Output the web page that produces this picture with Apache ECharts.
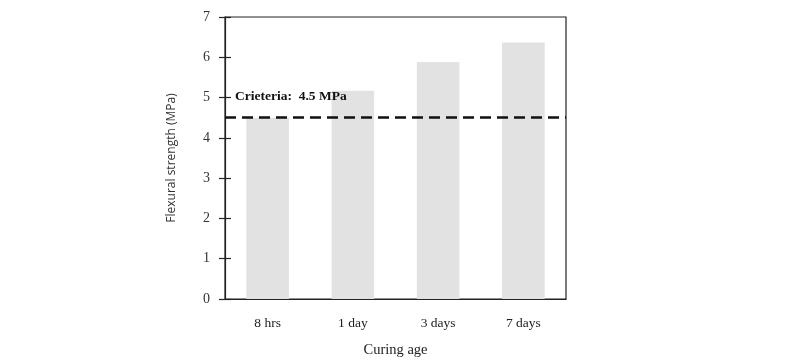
<!DOCTYPE html>
<html><head><meta charset="utf-8">
<script src="https://cdn.jsdelivr.net/npm/echarts@6/dist/echarts.min.js"></script>
<style>html,body{margin:0;padding:0;background:#fff}#c{width:800px;height:363px}</style>
</head><body><div id="c"></div>
<script>
const categories = ['8 hrs', '1 day', '3 days', '7 days'];
const strength = [4.5, 5.17, 5.88, 6.37];
const criteria = 4.5;
const criteriaLabel = 'Crieteria:  4.5 MPa';
const yTicks = { min: 0, max: 7, interval: 1 };

const chart = echarts.init(document.getElementById('c'));
const serif = 'Liberation Serif';
chart.setOption({
  animation: false,
  grid: { left: 225, right: 234, top: 17, bottom: 62, show: true, borderColor: '#222', borderWidth: 1.2, backgroundColor: 'transparent' },
  xAxis: {
    type: 'category', data: categories,
    axisLine: { lineStyle: { color: '#222', width: 1.2 } },
    axisTick: { show: false },
    axisLabel: { fontFamily: serif, fontSize: 13.5, color: '#222', margin: 17 },
    name: 'Curing age', nameLocation: 'middle', nameGap: 44,
    nameTextStyle: { fontFamily: serif, fontSize: 14.5, color: '#222' }
  },
  yAxis: [{
    type: 'value', min: yTicks.min, max: yTicks.max, interval: yTicks.interval,
    splitLine: { show: false },
    axisLine: { show: true, lineStyle: { color: '#222', width: 1.2 } },
    axisTick: { show: true, length: 6, lineStyle: { color: '#222', width: 1.2 } },
    axisLabel: { fontFamily: serif, fontSize: 14, color: '#333', margin: 15 },
    name: 'Flexural strength (MPa)', nameLocation: 'middle', nameGap: 47, nameRotate: 90,
    nameTextStyle: { fontFamily: 'Open Sans', fontSize: 12, color: '#333' }
  }, {
    type: 'value', position: 'left', min: yTicks.min, max: yTicks.max, interval: yTicks.interval,
    splitLine: { show: false },
    axisLine: { show: false },
    axisTick: { show: true, inside: true, length: 6, lineStyle: { color: '#222', width: 1.2 } },
    axisLabel: { show: false }
  }],
  series: [{
    type: 'bar', data: strength, barWidth: '50%',
    itemStyle: { color: '#e2e2e2' },
    markLine: {
      symbol: 'none', silent: true,
      lineStyle: { color: '#111', type: [11, 6], width: 2.5 },
      label: { show: true, position: 'insideStartTop', formatter: criteriaLabel, fontFamily: serif, fontWeight: 'bold', fontSize: 13.5, color: '#111', distance: [10, 14] },
      data: [{ yAxis: criteria }]
    }
  }]
});
</script></body></html>
